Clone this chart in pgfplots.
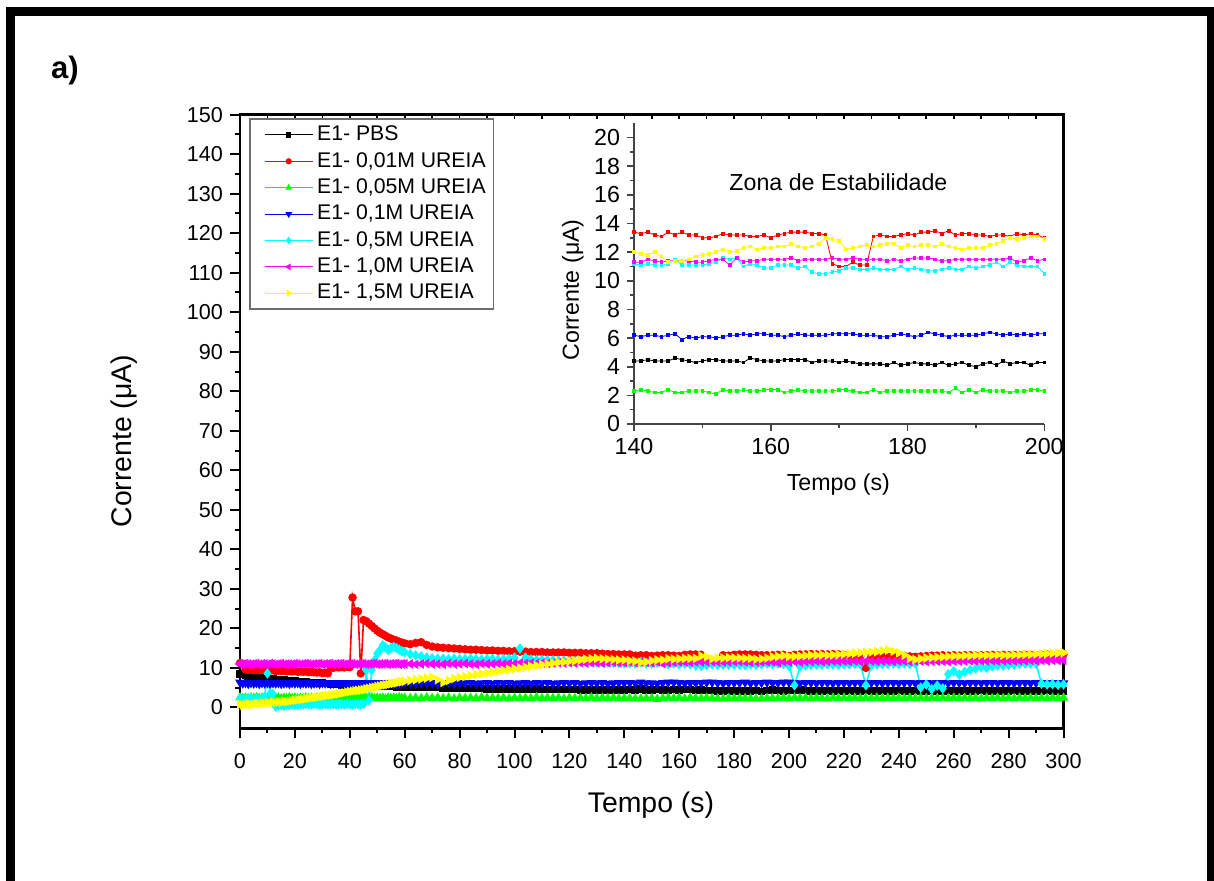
\documentclass[border=0pt]{standalone}
\usepackage{fontspec}
\setmainfont{Liberation Sans}
\usepackage{pgfplots}
\usepackage{pgfplotstable}
\pgfplotsset{compat=1.18}

\pgfplotstableread{
t A B C D E F G
0 8.5 11.2 2.5 6.3 2.2 11.0 0.8
1 8.3 11.0 2.3 6.1 2.0 10.9 0.6
2 8.2 9.6 2.4 6.2 2.1 11.1 0.7
3 8.0 9.5 2.2 6.0 2.3 11.0 0.9
4 7.9 9.6 2.4 6.2 2.2 10.9 0.7
5 7.8 9.4 2.3 6.1 2.0 11.0 0.8
6 7.7 9.5 2.5 6.2 2.2 11.1 1.0
7 7.6 9.4 2.3 6.0 2.1 10.9 0.9
8 7.5 9.5 2.4 6.2 2.3 11.0 1.1
9 7.4 9.3 2.2 6.1 2.7 11.0 1.0
10 7.3 9.4 2.4 6.2 8.6 10.9 1.2
11 7.3 9.3 2.3 6.0 3.5 11.1 1.1
12 7.2 9.4 2.5 6.2 3.4 11.0 1.3
13 7.1 9.2 2.3 6.1 0.2 10.9 1.2
14 7.0 9.3 2.4 6.2 0.5 11.0 1.4
15 6.9 9.2 2.2 6.0 0.6 11.1 1.3
16 6.9 9.3 2.4 6.1 0.4 10.9 1.5
17 6.8 9.1 2.3 6.2 0.7 11.0 1.4
18 6.7 9.2 2.5 6.0 0.6 11.0 1.6
19 6.7 9.1 2.3 6.2 0.8 10.9 1.7
20 6.6 9.2 2.4 6.1 0.7 11.1 1.8
21 6.5 9.0 2.2 6.2 0.6 11.0 1.9
22 6.5 9.1 2.4 6.0 0.8 10.9 2.0
23 6.4 9.0 2.3 6.2 0.7 11.0 2.1
24 6.4 9.1 2.5 6.1 0.9 11.1 2.2
25 6.3 8.9 2.3 6.2 0.8 11.0 2.3
26 6.3 9.0 2.4 6.0 0.7 10.9 2.4
27 6.2 8.9 2.2 6.1 0.9 11.0 2.5
28 6.2 8.8 2.4 6.2 0.8 11.0 2.6
29 6.1 8.9 2.3 6.0 0.7 11.1 2.7
30 6.1 8.7 2.5 6.2 0.9 10.9 2.8
31 6.0 8.8 2.3 6.1 0.8 11.0 2.9
32 6.0 8.6 2.4 6.2 0.7 11.0 3.0
33 5.9 10.1 2.3 6.0 0.9 11.1 3.1
34 5.9 10.0 2.4 6.1 0.8 10.9 3.2
35 5.8 10.2 2.2 6.2 0.7 11.0 3.3
36 5.8 10.1 2.4 6.0 0.9 11.0 3.4
37 5.7 10.2 2.3 6.2 0.8 11.1 3.6
38 5.7 10.1 2.5 6.1 0.7 10.9 3.7
39 5.7 10.3 2.3 6.2 0.9 11.0 3.9
40 5.6 10.2 2.4 6.0 0.8 11.0 4.0
41 5.6 27.8 2.3 6.1 0.7 11.1 4.1
42 5.6 24.3 2.4 6.2 0.9 10.9 4.2
43 5.5 24.3 2.2 6.0 0.8 11.0 4.3
44 5.5 8.6 2.4 6.2 0.7 11.0 4.4
45 5.5 22.1 2.3 6.1 0.9 11.1 4.5
46 5.5 21.8 2.4 6.2 9.4 10.9 4.7
47 5.4 21.2 2.3 6.0 1.8 11.0 4.8
48 5.4 20.6 2.5 6.1 9.4 11.0 5.0
49 5.4 20.0 2.3 6.2 11.9 11.1 5.1
50 5.4 19.4 2.4 6.0 13.6 10.9 5.3
51 5.4 18.9 2.3 6.2 14.5 11.0 5.4
52 5.3 18.5 2.4 6.1 15.7 11.0 5.6
53 5.3 18.1 2.2 6.2 15.2 11.1 5.7
54 5.3 17.7 2.4 6.0 14.5 10.9 5.8
55 5.3 17.4 2.3 6.1 15.0 11.0 6.0
56 5.3 17.1 2.4 6.2 15.3 11.0 6.1
57 5.2 16.9 2.3 6.0 15.0 11.1 6.2
58 5.2 16.6 2.5 6.2 14.6 10.9 6.4
59 5.2 16.4 2.3 6.1 14.2 11.0 6.5
60 5.2 16.2 2.4 6.2 14.0 11.0 6.6
62 5.1 16.0 2.3 6.1 13.5 11.0 6.8
64 5.1 16.3 2.4 6.0 13.2 10.9 7.0
66 5.0 16.5 2.3 6.2 12.9 11.0 7.2
68 5.0 15.8 2.5 6.1 12.6 11.1 7.4
70 5.0 15.4 2.3 6.2 12.4 11.0 7.6
72 5.0 15.2 2.4 6.0 12.3 11.0 7.0
74 4.9 15.1 2.3 6.1 12.3 10.9 6.3
76 4.9 15.0 2.4 6.2 12.2 11.1 6.8
78 4.9 14.9 2.2 6.0 12.3 11.0 7.3
80 4.9 14.8 2.4 6.2 12.2 11.0 7.6
82 4.8 14.7 2.3 6.1 12.2 11.1 7.8
84 4.8 14.6 2.4 6.2 12.3 11.0 8.0
86 4.8 14.6 2.3 6.0 12.2 10.9 8.3
88 4.8 14.5 2.5 6.1 12.1 11.1 8.5
90 4.7 14.4 2.3 6.2 12.2 11.0 8.7
92 4.7 14.4 2.4 6.0 12.2 11.0 8.9
94 4.7 14.3 2.3 6.2 12.1 11.1 9.1
96 4.7 14.3 2.4 6.1 12.2 11.0 9.4
98 4.7 14.2 2.2 6.2 12.3 11.1 9.6
100 4.6 14.2 2.4 6.0 12.6 11.0 9.8
102 4.6 14.1 2.3 6.1 14.9 11.2 10.0
104 4.6 14.1 2.4 6.2 12.6 11.1 10.2
106 4.6 14.0 2.3 6.0 12.1 11.2 10.4
108 4.6 14.0 2.5 6.2 12.0 11.1 10.6
110 4.5 14.0 2.3 6.1 12.0 11.2 10.8
112 4.5 13.9 2.4 6.2 11.9 11.1 11.0
114 4.5 13.9 2.3 6.0 11.9 11.2 11.2
116 4.5 13.9 2.4 6.1 11.8 11.3 11.4
118 4.5 13.9 2.2 6.2 11.8 11.2 11.5
120 4.5 13.8 2.4 6.1 11.7 11.3 11.7
122 4.5 13.8 2.3 6.2 11.7 11.2 11.8
124 4.4 13.8 2.4 6.0 11.6 11.3 12.0
126 4.4 13.7 2.3 6.1 11.5 11.2 12.2
128 4.4 13.7 2.5 6.2 11.5 11.3 12.3
130 4.4 13.7 2.3 6.1 11.4 11.3 12.4
132 4.4 13.6 2.4 6.2 11.4 11.2 12.3
134 4.4 13.5 2.3 6.0 11.3 11.3 12.2
136 4.4 13.5 2.4 6.1 11.3 11.4 12.1
138 4.4 13.4 2.3 6.2 11.2 11.3 12.0
140 4.4 13.4 2.3 6.2 11.2 11.3 12.0
142 4.5 13.4 2.3 6.2 11.2 11.5 11.8
144 4.4 13.1 2.2 6.1 11.1 11.3 11.7
146 4.6 13.2 2.2 6.3 11.5 11.4 11.4
148 4.4 13.2 2.3 6.1 11.1 11.4 11.5
150 4.4 13.0 2.3 6.1 11.1 11.3 11.8
152 4.5 13.1 2.1 6.0 11.3 11.5 12.0
154 4.4 13.2 2.3 6.2 11.5 11.1 12.0
156 4.3 13.2 2.4 6.3 11.0 11.3 12.3
158 4.5 13.1 2.3 6.3 11.1 11.4 12.2
160 4.4 13.0 2.4 6.2 10.9 11.5 12.3
162 4.5 13.3 2.2 6.1 11.1 11.5 12.4
164 4.5 13.4 2.4 6.2 10.9 11.4 12.4
166 4.3 13.4 2.3 6.2 10.6 11.5 12.4
168 4.4 13.3 2.3 6.2 10.5 11.5 13.0
170 4.3 11.0 2.4 6.3 10.7 11.5 12.8
172 4.3 11.3 2.3 6.3 10.9 11.6 12.3
174 4.2 11.1 2.2 6.2 10.8 11.5 12.5
176 4.2 13.2 2.2 6.1 10.8 11.5 12.5
178 4.3 13.1 2.3 6.2 10.8 11.5 12.6
180 4.2 13.3 2.3 6.2 10.8 11.6 12.5
182 4.2 13.4 2.3 6.2 10.8 11.6 12.5
184 4.1 13.4 2.3 6.3 10.7 11.5 12.4
186 4.1 13.4 2.2 6.1 10.9 11.4 12.4
188 4.3 13.3 2.2 6.2 10.8 11.5 12.2
190 4.0 13.2 2.2 6.2 10.9 11.5 12.3
192 4.3 13.2 2.3 6.3 11.1 11.5 12.5
194 4.4 13.2 2.3 6.2 11.0 11.5 12.8
196 4.3 13.3 2.3 6.2 11.1 11.3 12.9
198 4.1 13.3 2.4 6.3 11.0 11.6 13.1
200 4.3 13.0 2.3 6.3 10.5 11.5 12.9
202 4.3 13.3 2.4 6.2 5.6 11.6 12.9
204 4.4 13.4 2.3 6.1 10.3 11.5 13.0
206 4.3 13.4 2.4 6.2 10.6 11.6 13.1
208 4.2 13.5 2.3 6.2 10.7 11.6 13.2
210 4.3 13.4 2.4 6.1 10.8 11.7 13.2
212 4.2 13.5 2.3 6.2 10.8 11.6 13.3
214 4.3 13.4 2.2 6.2 10.9 11.6 13.2
216 4.2 13.5 2.4 6.1 10.9 11.7 13.3
218 4.3 13.4 2.3 6.2 10.8 11.6 13.4
220 4.2 13.3 2.4 6.2 10.9 11.7 13.5
222 4.3 13.2 2.3 6.1 10.9 11.6 13.6
224 4.2 13.1 2.4 6.2 11.0 11.7 13.7
226 4.2 13.0 2.3 6.2 10.9 11.6 13.8
228 4.3 10.0 2.4 6.1 5.6 11.7 13.9
230 4.2 12.9 2.3 6.2 10.7 11.7 14.0
232 4.2 12.8 2.4 6.2 10.9 11.6 14.1
234 4.3 12.9 2.3 6.1 11.0 11.7 14.3
236 4.2 12.8 2.4 6.2 11.0 11.7 14.5
238 4.2 12.9 2.3 6.2 11.1 11.6 14.2
240 4.3 13.0 2.4 6.1 11.0 11.7 13.8
242 4.2 13.0 2.3 6.2 11.1 11.7 13.2
244 4.2 12.9 2.4 6.2 11.0 11.6 12.4
246 4.3 12.8 2.3 6.1 11.1 11.7 12.1
248 4.2 12.9 2.4 6.2 5.0 11.7 12.3
250 4.2 13.0 2.3 6.2 5.8 11.6 12.5
252 4.3 13.1 2.4 6.1 4.6 11.7 12.6
254 4.2 13.1 2.3 6.2 5.5 11.7 12.7
256 4.2 13.2 2.4 6.2 4.8 11.7 12.8
258 4.3 13.1 2.3 6.1 8.4 11.6 12.9
260 4.2 13.2 2.4 6.2 9.2 11.7 13.0
262 4.2 13.1 2.3 6.2 8.3 11.7 13.0
264 4.3 13.2 2.4 6.1 9.0 11.7 13.1
266 4.2 13.2 2.3 6.2 9.5 11.8 13.1
268 4.2 13.1 2.4 6.2 9.8 11.7 13.2
270 4.3 13.2 2.3 6.1 10.2 11.8 13.2
272 4.2 13.2 2.4 6.2 10.0 11.7 13.2
274 4.2 13.3 2.3 6.2 10.4 11.8 13.2
276 4.3 13.2 2.4 6.1 10.6 11.7 13.3
278 4.2 13.3 2.3 6.2 10.6 11.8 13.2
280 4.2 13.2 2.4 6.2 10.7 11.8 13.2
282 4.3 13.3 2.3 6.1 10.8 11.8 13.3
284 4.2 13.2 2.4 6.2 11.0 11.8 13.3
286 4.2 13.3 2.3 6.2 11.1 11.8 13.4
288 4.3 13.3 2.4 6.1 11.1 11.9 13.4
290 4.2 13.2 2.3 6.2 11.0 11.8 13.5
292 4.2 13.3 2.4 6.2 6.0 11.9 13.5
294 4.3 13.4 2.3 6.1 5.8 11.8 13.6
296 4.2 13.3 2.4 6.2 5.9 11.9 13.7
298 4.2 13.4 2.3 6.2 5.7 11.9 13.7
300 4.1 13.5 2.4 6.1 5.8 11.9 13.8
}\maindata

\pgfplotstableread{
t A B C D E F G
140 4.4 13.4 2.3 6.2 11.2 11.3 12.0
141 4.4 13.3 2.4 6.1 11.1 11.3 11.9
142 4.5 13.4 2.3 6.2 11.2 11.5 11.8
143 4.4 13.2 2.2 6.2 11.1 11.4 12.0
144 4.4 13.1 2.2 6.1 11.1 11.3 11.7
145 4.4 13.4 2.4 6.2 11.2 11.4 11.3
146 4.6 13.2 2.2 6.3 11.5 11.4 11.4
147 4.5 13.4 2.2 5.9 11.1 11.4 11.4
148 4.4 13.2 2.3 6.1 11.1 11.4 11.5
149 4.3 13.2 2.3 6.0 11.1 11.3 11.7
150 4.4 13.0 2.3 6.1 11.1 11.3 11.8
151 4.5 13.0 2.2 6.1 11.2 11.4 11.9
152 4.5 13.1 2.1 6.0 11.3 11.5 12.0
153 4.4 13.3 2.4 6.1 11.6 11.5 12.2
154 4.4 13.2 2.3 6.2 11.5 11.1 12.0
155 4.4 13.2 2.3 6.2 11.6 11.6 12.1
156 4.3 13.2 2.4 6.3 11.0 11.3 12.3
157 4.6 13.1 2.3 6.2 11.2 11.4 12.4
158 4.5 13.1 2.3 6.3 11.1 11.4 12.2
159 4.4 13.2 2.4 6.3 10.9 11.5 12.3
160 4.4 13.0 2.4 6.2 10.9 11.5 12.3
161 4.4 13.2 2.4 6.2 11.1 11.5 12.4
162 4.5 13.3 2.2 6.1 11.1 11.5 12.4
163 4.5 13.4 2.3 6.2 11.1 11.6 12.6
164 4.5 13.4 2.4 6.3 10.9 11.4 12.4
165 4.5 13.4 2.3 6.2 11.0 11.5 12.3
166 4.3 13.3 2.3 6.2 10.6 11.5 12.4
167 4.4 13.3 2.3 6.2 10.5 11.5 12.6
168 4.4 13.2 2.3 6.2 10.5 11.5 13.0
169 4.4 11.2 2.3 6.3 10.6 11.6 12.9
170 4.3 11.0 2.4 6.3 10.7 11.5 12.8
171 4.4 11.0 2.4 6.3 10.9 11.5 12.2
172 4.3 11.3 2.3 6.3 10.9 11.6 12.3
173 4.2 11.1 2.2 6.2 10.8 11.5 12.4
174 4.2 11.1 2.2 6.2 10.8 11.5 12.5
175 4.2 13.1 2.4 6.2 10.9 11.5 12.4
176 4.2 13.2 2.2 6.1 10.8 11.5 12.5
177 4.1 13.1 2.3 6.1 10.8 11.4 12.6
178 4.3 13.1 2.3 6.2 10.8 11.5 12.6
179 4.1 13.2 2.3 6.3 11.0 11.4 12.3
180 4.2 13.3 2.3 6.2 10.8 11.5 12.5
181 4.3 13.2 2.3 6.1 10.9 11.6 12.4
182 4.2 13.4 2.3 6.2 10.8 11.6 12.5
183 4.2 13.4 2.3 6.4 10.7 11.6 12.5
184 4.1 13.5 2.3 6.3 10.7 11.5 12.4
185 4.3 13.3 2.3 6.2 10.8 11.4 12.6
186 4.1 13.5 2.2 6.1 10.9 11.4 12.4
187 4.2 13.2 2.5 6.2 10.8 11.5 12.3
188 4.3 13.3 2.2 6.2 10.8 11.5 12.2
189 4.1 13.3 2.4 6.2 11.0 11.5 12.3
190 4.0 13.2 2.2 6.2 10.9 11.5 12.3
191 4.2 13.2 2.4 6.3 11.0 11.5 12.3
192 4.3 13.1 2.3 6.4 11.1 11.5 12.5
193 4.1 13.2 2.3 6.3 11.3 11.5 12.6
194 4.4 13.2 2.3 6.2 11.0 11.5 12.8
195 4.2 13.1 2.2 6.3 11.3 11.6 13.0
196 4.3 13.3 2.3 6.2 11.1 11.3 12.9
197 4.3 13.2 2.3 6.3 11.0 11.4 13.0
198 4.1 13.3 2.4 6.2 11.0 11.6 13.1
199 4.3 13.2 2.4 6.3 11.0 11.4 13.1
200 4.3 13.0 2.3 6.3 10.5 11.5 12.9
}\insetdata

\definecolor{axgray}{RGB}{68,68,68}
\definecolor{leggray}{RGB}{110,110,110}
\definecolor{cR}{RGB}{255,0,0}
\definecolor{cG}{RGB}{0,255,0}
\definecolor{cB}{RGB}{0,0,255}
\definecolor{cC}{RGB}{0,255,255}
\definecolor{cM}{RGB}{255,0,255}
\definecolor{cY}{RGB}{255,255,0}

\begin{document}
\begin{tikzpicture}
\path[use as bounding box] (0pt,0pt) rectangle (607pt,-440.5pt);
\draw[line width=4.5pt, line join=miter] (5.25pt,-470pt) -- (5.25pt,-5.75pt) -- (605.75pt,-5.75pt) -- (605.75pt,-470pt);
\node[font=\fontsize{15.5}{18}\selectfont\bfseries] at (32.5pt,-35pt) {a)};

% top ticks of the main frame
\begin{axis}[
  at={(120pt,-364.15pt)}, anchor=south west,
  scale only axis, width=411.75pt, height=306.8pt,
  xmin=0, xmax=300, ymin=-5.3, ymax=150,
  hide y axis, axis x line*=top,
  axis line style={draw=none},
  xtick={0,10,...,300}, xticklabels={},
  major tick length=2pt, tick align=inside,
  every tick/.style={black, line width=0.8pt},
]
\end{axis}

\begin{axis}[
  at={(120pt,-364.15pt)}, anchor=south west,
  scale only axis, width=411.75pt, height=306.8pt,
  xmin=0, xmax=300, ymin=-5.3, ymax=150,
  axis line style={line width=1.2pt},
  xtick={0,20,...,300}, ytick={0,10,...,150},
  minor x tick num=1, minor y tick num=1,
  tick align=outside, tick pos=left,
  major tick length=5pt, minor tick length=2.5pt,
  every tick/.style={black, line width=1pt},
  tick label style={font=\fontsize{10.8}{12}\selectfont},
  xticklabel style={yshift=-4pt},
  /pgf/number format/assume math mode=true,
  xlabel={Tempo (s)}, ylabel={Corrente (μA)},
  label style={font=\fontsize{14.2}{16}\selectfont},
  xlabel style={at={(axis description cs:0.499,-0.125)}, anchor=center},
  ylabel style={at={(axis description cs:-0.141,0.468)}, anchor=center},
  legend style={at={(axis description cs:0.0113,0.994)}, anchor=north west,
    draw=leggray, line width=0.6pt, font=\fontsize{10.6}{12}\selectfont,
    row sep=0.3pt, inner xsep=2pt, inner ysep=1.5pt},
  legend cell align=left,
  legend image code/.code={\path (0pt,0pt); \draw[line width=0.5pt, every mark/.append style={scale=0.75}, mark repeat=2,mark phase=2] plot coordinates {(5pt,0pt) (17pt,0pt) (29pt,0pt)};},
]
\addplot[black, line width=0.8pt, mark=square*, mark size=1.5pt] table[x=t,y=A]{\maindata};
\addlegendentry{E1- PBS}
\addplot[cR, line width=0.8pt, mark=*, mark size=1.7pt] table[x=t,y=B]{\maindata};
\addlegendentry{E1- 0,01M UREIA}
\addplot[cG, line width=0.8pt, mark=triangle*, mark size=2pt] table[x=t,y=C]{\maindata};
\addlegendentry{E1- 0,05M UREIA}
\addplot[cB, line width=0.8pt, mark=triangle*, mark size=2pt, mark options={rotate=180}] table[x=t,y=D]{\maindata};
\addlegendentry{E1- 0,1M UREIA}
\addplot[cC, line width=0.8pt, mark=diamond*, mark size=2pt] table[x=t,y=E]{\maindata};
\addlegendentry{E1- 0,5M UREIA}
\addplot[cM, line width=0.8pt, mark=triangle*, mark size=2pt, mark options={rotate=90}] table[x=t,y=F]{\maindata};
\addlegendentry{E1- 1,0M UREIA}
\addplot[cY, line width=0.8pt, mark=triangle*, mark size=2pt, mark options={rotate=-90}] table[x=t,y=G]{\maindata};
\addlegendentry{E1- 1,5M UREIA}
\end{axis}

\begin{axis}[
  at={(317pt,-212pt)}, anchor=south west,
  scale only axis, width=205.15pt, height=150.35pt,
  xmin=140, xmax=200, ymin=0, ymax=21,
  axis x line*=bottom, axis y line*=left,
  axis line style={-, line width=1pt, draw=axgray},
  xtick={140,160,180,200}, ytick={0,2,...,20},
  minor x tick num=1, minor y tick num=1,
  tick align=outside,
  major tick length=3.5pt, minor tick length=2pt,
  every tick/.style={axgray, line width=0.8pt},
  tick label style={font=\fontsize{11.6}{13}\selectfont},
  /pgf/number format/assume math mode=true,
  xlabel={Tempo (s)}, ylabel={Corrente (μA)},
  label style={font=\fontsize{11.6}{13}\selectfont},
  xlabel style={at={(axis description cs:0.498,-0.2)}, anchor=center},
  ylabel style={at={(axis description cs:-0.149,0.446)}, anchor=center},
]
\addplot[black, line width=0.4pt, mark=square*, mark size=0.7pt] table[x=t,y=A]{\insetdata};
\addplot[cR, line width=0.4pt, mark=square*, mark size=0.7pt] table[x=t,y=B]{\insetdata};
\addplot[cG, line width=0.4pt, mark=square*, mark size=0.7pt] table[x=t,y=C]{\insetdata};
\addplot[cB, line width=0.4pt, mark=square*, mark size=0.7pt] table[x=t,y=D]{\insetdata};
\addplot[cC, line width=0.4pt, mark=square*, mark size=0.7pt] table[x=t,y=E]{\insetdata};
\addplot[cM, line width=0.4pt, mark=square*, mark size=0.7pt] table[x=t,y=F]{\insetdata};
\addplot[cY, line width=0.4pt, mark=square*, mark size=0.7pt] table[x=t,y=G]{\insetdata};
\node[font=\fontsize{11.6}{13}\selectfont] at (axis cs:169.9,16.9) {Zona de Estabilidade};
\end{axis}
\end{tikzpicture}
\end{document}
